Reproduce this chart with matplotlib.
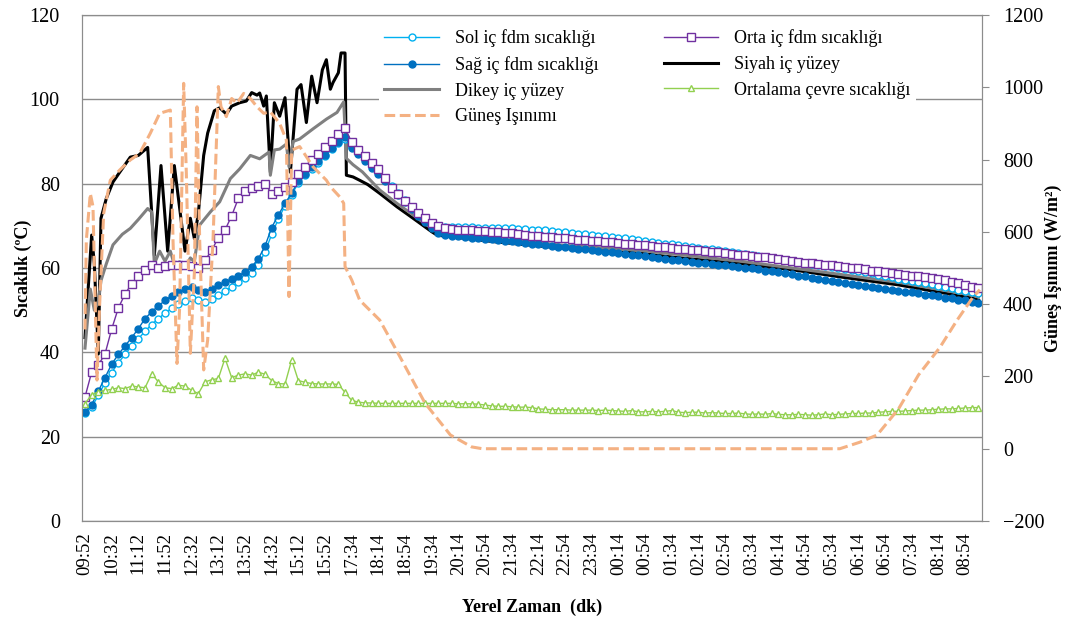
import numpy as np
import matplotlib.pyplot as plt

plt.rcParams['font.family'] = ['Liberation Serif', 'DejaVu Serif']

time_labels = ['09:52', '10:32', '11:12', '11:52', '12:32', '13:12', '13:52', '14:32',
               '15:12', '15:52', '17:34', '18:14', '18:54', '19:34', '20:14', '20:54',
               '21:34', '22:14', '22:54', '23:34', '00:14', '00:54', '01:34', '02:14',
               '02:54', '03:34', '04:14', '04:54', '05:34', '06:14', '06:54', '07:34',
               '08:14', '08:54']

# marker series: 4 readings per label step
sol = [25.6, 27.0, 29.8, 32.8, 35.2, 37.5, 39.5, 41.5, 43.2, 45.0, 46.6, 48.0,
       49.3, 50.4, 51.4, 52.2, 52.8, 52.5, 52.0, 52.6, 53.5, 54.5, 55.6, 56.6,
       57.6, 58.9, 60.8, 63.8, 68.0, 71.6, 74.8, 77.4, 80.2, 82.0, 83.6, 85.0,
       86.5, 88.2, 89.7, 90.7, 88.8, 87.4, 85.9, 84.3, 82.7, 81.1, 79.4, 77.7,
       76.1, 74.5, 72.9, 71.4, 70.2, 69.8, 69.8, 69.8, 69.8, 69.7, 69.7, 69.6,
       69.6, 69.5, 69.5, 69.4, 69.4, 69.3, 69.2, 69.1, 69.0, 68.9, 68.8, 68.6,
       68.5, 68.3, 68.1, 68.0, 67.8, 67.6, 67.5, 67.3, 67.1, 67.0, 66.8, 66.6,
       66.4, 66.2, 66.0, 65.8, 65.6, 65.4, 65.2, 65.0, 64.8, 64.6, 64.4, 64.2,
       64.0, 63.8, 63.6, 63.4, 63.1, 62.9, 62.7, 62.4, 62.2, 62.0, 61.7, 61.5,
       61.2, 61.0, 60.8, 60.5, 60.3, 60.0, 59.8, 59.5, 59.2, 59.0, 58.7, 58.4,
       58.1, 57.8, 57.5, 57.2, 56.9, 56.7, 56.4, 56.1, 55.8, 55.5, 55.2, 54.9,
       54.6, 54.3, 54.0]
sag = [25.9, 27.6, 30.8, 34.0, 37.2, 39.5, 41.5, 43.5, 45.6, 48.0, 49.6, 51.0,
       52.3, 53.4, 54.2, 55.0, 55.4, 54.8, 54.2, 55.0, 56.0, 56.7, 57.4, 58.2,
       59.0, 60.3, 62.2, 65.2, 69.6, 72.6, 75.3, 77.8, 80.6, 82.4, 84.0, 85.3,
       86.8, 88.5, 90.0, 91.0, 88.5, 87.0, 85.4, 83.8, 82.2, 80.6, 78.9, 77.2,
       75.6, 74.0, 72.4, 70.9, 69.5, 68.3, 67.9, 67.7, 67.5, 67.4, 67.2, 67.1,
       66.9, 66.8, 66.6, 66.4, 66.3, 66.1, 65.9, 65.8, 65.6, 65.4, 65.2, 65.1,
       64.9, 64.7, 64.5, 64.4, 64.2, 64.0, 63.8, 63.7, 63.5, 63.3, 63.1, 63.0,
       62.8, 62.6, 62.4, 62.2, 62.0, 61.8, 61.6, 61.5, 61.3, 61.1, 60.9, 60.8,
       60.6, 60.4, 60.2, 60.1, 59.9, 59.7, 59.4, 59.2, 59.0, 58.7, 58.5, 58.2,
       58.0, 57.7, 57.5, 57.2, 57.0, 56.7, 56.5, 56.2, 56.0, 55.8, 55.5, 55.3,
       55.1, 54.9, 54.6, 54.4, 54.2, 54.0, 53.7, 53.5, 53.3, 53.0, 52.8, 52.5,
       52.3, 52.0, 51.6]
orta = [29.4, 35.3, 37.0, 39.6, 45.5, 50.5, 53.8, 56.3, 58.0, 59.5, 60.6, 60.1,
        60.4, 60.8, 60.8, 60.6, 60.4, 60.0, 61.8, 64.2, 67.2, 69.0, 72.4, 76.5,
        78.2, 79.0, 79.5, 80.0, 77.6, 78.2, 79.2, 80.3, 82.2, 83.9, 85.5, 87.1,
        88.7, 90.2, 91.7, 93.2, 89.8, 88.0, 86.5, 84.9, 83.4, 81.3, 79.0, 77.5,
        76.0, 74.5, 73.0, 71.8, 70.7, 69.9, 69.4, 69.2, 69.1, 69.0, 68.9, 68.8,
        68.7, 68.6, 68.5, 68.3, 68.2, 68.0, 67.9, 67.7, 67.6, 67.4, 67.3, 67.1,
        67.0, 66.9, 66.7, 66.6, 66.5, 66.3, 66.2, 66.1, 66.0, 65.8, 65.7, 65.5,
        65.4, 65.2, 65.1, 64.9, 64.8, 64.6, 64.5, 64.3, 64.2, 64.0, 63.8, 63.7,
        63.6, 63.4, 63.2, 63.0, 62.8, 62.7, 62.5, 62.3, 62.1, 61.9, 61.7, 61.5,
        61.3, 61.1, 60.9, 60.7, 60.6, 60.4, 60.2, 60.0, 59.9, 59.7, 59.4, 59.2,
        59.0, 58.8, 58.6, 58.4, 58.2, 58.0, 57.8, 57.6, 57.4, 57.1, 56.8, 56.4,
        56.0, 55.6, 55.3]
cevre = [27.8, 30.0, 30.6, 31.0, 31.2, 31.6, 31.4, 32.0, 31.8, 31.6, 34.9, 33.0,
         31.6, 31.4, 32.2, 32.0, 31.0, 30.2, 33.0, 33.5, 33.8, 38.6, 34.0, 34.6,
         34.9, 34.6, 35.3, 34.8, 33.3, 32.6, 32.5, 38.2, 33.3, 32.9, 32.6, 32.5,
         32.5, 32.5, 32.4, 30.5, 28.6, 28.2, 28.0, 28.0, 27.9, 27.9, 27.9, 27.9,
         27.9, 27.9, 27.9, 27.9, 27.9, 27.9, 27.9, 27.9, 27.8, 27.8, 27.8, 27.7,
         27.5, 27.3, 27.2, 27.2, 27.1, 27.0, 27.0, 26.9, 26.6, 26.5, 26.4, 26.4,
         26.4, 26.3, 26.3, 26.3, 26.3, 26.2, 26.3, 26.2, 26.1, 26.0, 26.2, 25.9,
         25.9, 26.0, 25.9, 26.0, 26.2, 25.8, 25.7, 25.8, 25.8, 25.6, 25.7, 25.6,
         25.5, 25.5, 25.6, 25.4, 25.3, 25.4, 25.3, 25.5, 25.3, 25.2, 25.2, 25.3,
         25.2, 25.1, 25.2, 25.4, 25.2, 25.3, 25.4, 25.5, 25.5, 25.6, 25.6, 25.8,
         25.9, 26.0, 26.0, 26.1, 26.2, 26.3, 26.3, 26.4, 26.5, 26.6, 26.6, 26.7,
         26.8, 26.9, 26.9]

# line series: sample number (20 samples per label step) and value
siyah_n = [0, 5, 7, 10, 12, 16, 21, 26, 34, 40, 47, 52, 57, 62, 67, 75, 79, 82, 85,
           89, 92, 97, 101, 106, 110, 116, 121, 125, 129, 131, 134, 136, 139, 142,
           146, 150, 154, 159, 162, 166, 170, 174, 178, 181, 184, 186, 190, 192,
           195, 196, 201, 206, 212, 221, 234, 246, 260, 264, 280, 308, 358, 416,
           440, 492, 530, 566, 610, 666, 670]
siyah = [43.5, 67.8, 61.0, 39.6, 71.8, 76.5, 80.4, 82.7, 86.3, 86.7, 88.6, 63.0,
         84.3, 64.0, 84.3, 64.0, 71.8, 67.0, 73.0, 86.7, 92.0, 97.3, 98.0, 96.5,
         98.4, 99.2, 99.6, 101.6, 101.0, 101.5, 98.4, 100.8, 82.7, 99.2, 96.0,
         100.4, 82.7, 102.4, 103.5, 94.5, 105.5, 99.2, 107.0, 109.4, 102.4, 104.0,
         106.3, 111.0, 111.0, 82.0, 81.6, 80.8, 79.8, 77.7, 74.5, 71.8, 68.6, 67.8,
         67.2, 66.2, 64.7, 63.5, 62.6, 61.0, 59.6, 57.9, 56.0, 52.8, 52.4]
dikey_n = [0, 4, 7, 10, 12, 16, 21, 28, 34, 40, 47, 50, 52, 56, 60, 64, 67, 71, 75,
           79, 82, 86, 94, 101, 109, 116, 124, 131, 138, 139, 142, 146, 151, 153,
           156, 161, 171, 181, 189, 194, 196, 201, 208, 221, 234, 246, 260, 266,
           280, 308, 358, 416, 492, 566, 610, 666, 670]
dikey = [41.0, 55.0, 50.0, 52.0, 57.0, 61.0, 65.5, 68.0, 69.4, 71.5, 74.1, 73.3,
         61.0, 64.0, 61.6, 64.0, 60.8, 61.5, 60.0, 62.4, 61.5, 70.2, 73.3, 75.7,
         81.2, 83.5, 86.7, 85.9, 87.5, 82.0, 88.0, 88.2, 89.4, 84.0, 90.0, 90.6,
         93.0, 95.3, 96.9, 99.4, 86.0, 84.5, 82.8, 78.5, 75.3, 72.6, 69.4, 68.4,
         67.9, 67.0, 65.4, 64.2, 61.6, 58.5, 56.6, 53.5, 53.1]
gunes_n = [0, 1, 4, 6, 9, 11, 14, 19, 26, 34, 41, 49, 56, 64, 66, 69, 71, 74, 76,
           79, 82, 84, 86, 89, 92, 96, 100, 102, 106, 110, 114, 119, 124, 129, 134,
           139, 146, 151, 153, 155, 161, 171, 181, 184, 191, 194, 195, 200, 206,
           221, 233, 255, 274, 290, 298, 566, 581, 594, 610, 625, 641, 654, 666, 671]
gunes = [330, 577, 706, 670, 190, 400, 651, 743, 771, 799, 817, 873, 928, 937, 577,
         236, 393, 1011, 762, 264, 485, 946, 577, 218, 301, 577, 1002, 946, 919, 969,
         956, 983, 969, 946, 928, 932, 900, 854, 421, 826, 836, 780, 743, 725, 697,
         679, 504, 467, 411, 356, 276, 126, 38, 5, 0, 0, 18, 38, 110, 204, 280, 356,
         420, 440]

fig, ax = plt.subplots(figsize=(10.67, 6.23), dpi=100)
fig.subplots_adjust(left=0.0769, right=0.9203, bottom=0.1637, top=0.9759)
ax2 = ax.twinx()

t = np.arange(len(sol)) / 4
ax.plot(t, sol, color='#00B0F0', lw=1, marker='o', ms=5, mfc='white', mew=1,
        label='Sol iç fdm sıcaklığı', zorder=3)
ax.plot(t, sag, color='#0070C0', lw=1, marker='o', ms=5, mew=1,
        label='Sağ iç fdm sıcaklığı', zorder=4)
ax.plot(t, orta, color='#7030A0', lw=1, marker='s', ms=5.5, mfc='white', mew=1,
        label='Orta iç fdm sıcaklığı', zorder=5)
ax.plot(np.array(siyah_n) / 20, siyah, color='black', lw=2.2,
        label='Siyah iç yüzey', zorder=2)
ax.plot(np.array(dikey_n) / 20, dikey, color='#808080', lw=2.2,
        label='Dikey iç yüzey', zorder=2.5)
ax.plot(t, cevre, color='#92D050', lw=1, marker='^', ms=5, mfc='white', mew=1,
        label='Ortalama çevre sıcaklığı', zorder=6)
ax2.plot(np.array(gunes_n) / 20, gunes, color='#F4B183', lw=2.2, dashes=(3.5, 1.5),
         label='Güneş Işınımı')

ax.set_xlim(-0.11, 33.63)
ax.set_ylim(0, 120)
ax2.set_ylim(-200, 1200)
ax.set_yticks(range(0, 121, 20))
ax2.set_yticks(range(-200, 1201, 200))
ax.set_xticks(range(len(time_labels)))
ax.set_xticklabels(time_labels, rotation=90)
ax.grid(axis='y', color='#8c8c8c', lw=1)
ax.set_axisbelow(True)

for a in (ax, ax2):
    for s in a.spines.values():
        s.set_color('#8c8c8c')
ax.tick_params(axis='y', length=0, pad=16, labelsize=14.5)
ax.tick_params(axis='x', length=0, pad=8, labelsize=13.5)
ax2.tick_params(axis='y', length=5, color='#8c8c8c', pad=10, labelsize=14.5)

ax.set_ylabel('Sıcaklık (ºC)', fontsize=13, fontweight='bold', labelpad=-2)
ax2.set_ylabel('Güneş Işınımı (W/m²)', fontsize=13, fontweight='bold', labelpad=0)
ax.set_xlabel('Yerel Zaman  (dk)', fontsize=13, fontweight='bold', labelpad=17)

h1, l1 = ax.get_legend_handles_labels()
h2, l2 = ax2.get_legend_handles_labels()
handles = [h1[0], h1[1], h1[4], h2[0], h1[2], h1[3], h1[5]]
labels = [l1[0], l1[1], l1[4], l2[0], l1[2], l1[3], l1[5]]
leg = ax2.legend(handles, labels, ncol=2, loc='upper left', bbox_to_anchor=(0.32, 1.0),
                 fontsize=13, frameon=True, facecolor='white', edgecolor='none',
                 framealpha=1, handlelength=3.0, handletextpad=0.9, columnspacing=3.6,
                 labelspacing=0.48, borderpad=0.3, fancybox=False)
leg.set_zorder(10)

fig.savefig('out.png', dpi=100)
